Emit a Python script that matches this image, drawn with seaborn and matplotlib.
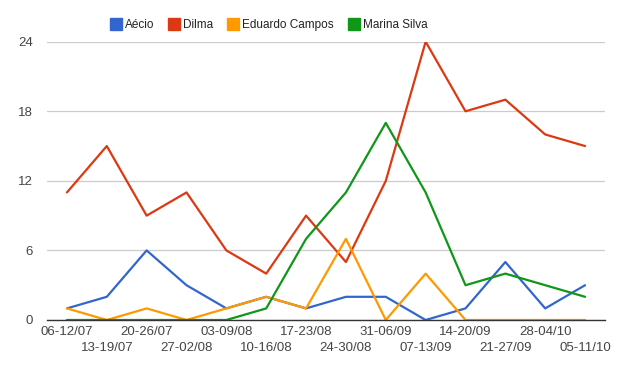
import pandas as pd
import matplotlib.pyplot as plt
import seaborn as sns
from matplotlib.lines import Line2D

weeks = ["06-12/07", "13-19/07", "20-26/07", "27-02/08", "03-09/08", "10-16/08",
         "17-23/08", "24-30/08", "31-06/09", "07-13/09", "14-20/09", "21-27/09",
         "28-04/10", "05-11/10"]
aecio = [1, 2, 6, 3, 1, 2, 1, 2, 2, 0, 1, 5, 1, 3]
dilma = [11, 15, 9, 11, 6, 4, 9, 5, 12, 24, 18, 19, 16, 15]
eduardo = [1, 0, 1, 0, 1, 2, 1, 7, 0, 4, 0, 0, 0, 0]
marina = [0, 0, 0, 0, 0, 1, 7, 11, 17, 11, 3, 4, 3, 2]

names = ["Aécio", "Dilma", "Eduardo Campos", "Marina Silva"]
colors = ["#3366cc", "#dc3912", "#ff9900", "#109618"]

rows = []
for name, vals in zip(names, [aecio, dilma, eduardo, marina]):
    for i, v in enumerate(vals):
        rows.append({"idx": i, "value": v, "name": name})
df = pd.DataFrame(rows)

sns.set_style("white")
plt.rcParams["font.family"] = ["Liberation Sans", "DejaVu Sans"]

fig = plt.figure(figsize=(6.33, 3.68), dpi=100)
ax = fig.add_axes([47 / 633, 1 - 320 / 368, 558 / 633, (320 - 41.7) / 368])

sns.lineplot(data=df, x="idx", y="value", hue="name", hue_order=names,
             palette=colors, linewidth=1.6, ax=ax, legend=False)

ax.set_xlim(-0.5, len(weeks) - 0.5)
ax.set_ylim(0, 24)
ax.set_yticks([0, 6, 12, 18, 24])
ax.yaxis.grid(True, color="#cccccc", linewidth=0.9)
ax.set_axisbelow(True)

# alternate labels on two rows: even on major ticks, odd on minor ticks
ax.set_xticks(range(0, len(weeks), 2))
ax.set_xticklabels(weeks[0::2])
ax.set_xticks(range(1, len(weeks), 2), minor=True)
ax.set_xticklabels(weeks[1::2], minor=True)
ax.tick_params(axis="both", which="both", length=0, labelsize=9.5, colors="#444444")
ax.tick_params(axis="x", which="major", pad=4)
ax.tick_params(axis="x", which="minor", pad=16)
ax.tick_params(axis="y", pad=10)
ax.set_xlabel("")
ax.set_ylabel("")
for s in ["top", "right", "left"]:
    ax.spines[s].set_visible(False)
ax.spines["bottom"].set_color("#333333")
ax.spines["bottom"].set_linewidth(1.0)

handles = [Line2D([], [], marker="s", linestyle="", markersize=8.5,
                  markerfacecolor=c, markeredgecolor=c) for c in colors]
fig.legend(handles, names, loc="center", bbox_to_anchor=(269 / 633, 1 - 25 / 368),
           ncol=4, frameon=False, fontsize=8.5, handletextpad=0.3, handlelength=0.9,
           columnspacing=1.25, labelcolor="#222222")

plt.savefig("out.png", dpi=100)
